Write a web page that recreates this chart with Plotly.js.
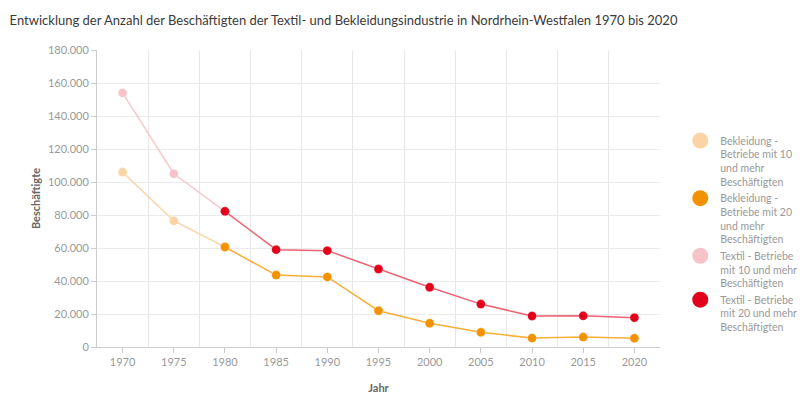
<!DOCTYPE html>
<html><head><meta charset="utf-8">
<script src="https://cdn.plot.ly/plotly-3.0.1.min.js"></script>
<style>body{margin:0;background:#fff}#chart{width:800px;height:398px}</style>
</head><body><div id="chart"></div>
<script>
const years = [1970, 1975, 1980, 1985, 1990, 1995, 2000, 2005, 2010, 2015, 2020];
const bekl10Years = [1970, 1975, 1980];
const bekl10 = [106000, 76500, 60600];
const bekl20Years = [1980, 1985, 1990, 1995, 2000, 2005, 2010, 2015, 2020];
const bekl20 = [60600, 43600, 42500, 22000, 14400, 8900, 5400, 6000, 5300];
const text10Years = [1970, 1975, 1980];
const text10 = [154000, 105000, 82200];
const text20Years = [1980, 1985, 1990, 1995, 2000, 2005, 2010, 2015, 2020];
const text20 = [82200, 59000, 58400, 47300, 36200, 26000, 18800, 18900, 17800];
const names = [
  "Bekleidung -<br>Betriebe mit 10<br>und mehr<br>Beschäftigten",
  "Bekleidung -<br>Betriebe mit 20<br>und mehr<br>Beschäftigten",
  "Textil - Betriebe<br>mit 10 und mehr<br>Beschäftigten",
  "Textil - Betriebe<br>mit 20 und mehr<br>Beschäftigten"
];
const colors = ["#FBD3A4", "#F39200", "#F6C3C9", "#E2001A"];
const lineColors = ["rgba(251,211,164,0.9)", "rgba(245,166,35,0.9)", "rgba(246,195,201,0.9)", "rgba(234,70,90,0.85)"];
const xs = [bekl10Years, bekl20Years, text10Years, text20Years];
const ys = [bekl10, bekl20, text10, text20];

const traces = [];
for (let i = 0; i < 4; i++) {
  traces.push({
    x: xs[i], y: ys[i], type: "scatter", mode: "lines+markers",
    line: {color: lineColors[i], width: 1.5},
    marker: {color: colors[i], size: 9, line: {color: "rgba(255,255,255,0.6)", width: 0.5}},
    showlegend: false, hoverinfo: "x+y"
  });
}
const ordered = [traces[2], traces[0], traces[3], traces[1]];
for (let i = 0; i < 4; i++) {
  ordered.push({
    x: [null], y: [null], type: "scatter", mode: "markers", name: names[i],
    marker: {color: colors[i], size: 16}, showlegend: true
  });
}

const layout = {
  width: 800, height: 398,
  margin: {l: 97, r: 140, t: 50, b: 51, autoexpand: false},
  paper_bgcolor: "#fff", plot_bgcolor: "#fff",
  separators: ",.",
  font: {family: "Lato, 'Noto Sans', sans-serif", color: "#999", size: 11},
  title: {text: "Entwicklung der Anzahl der Beschäftigten der Textil- und Bekleidungsindustrie in Nordrhein-Westfalen 1970 bis 2020",
    xref: "container", yref: "container", x: 0.012, xanchor: "left", y: 0.948, yanchor: "middle",
    font: {size: 13, color: "#3a3a3a", family: "Lato, 'Noto Sans', sans-serif"}},
  xaxis: {
    range: [1967.5, 2022.5], tickvals: years, ticktext: years.map(String),
    showgrid: false, zeroline: false, showline: true, linecolor: "#ccc", linewidth: 1,
    ticks: "outside", ticklen: 5, tickcolor: "#ccc", tickfont: {size: 11, color: "#999"},
    minor: {tick0: 1972.5, dtick: 5, showgrid: true, gridcolor: "#e8e8e8", gridwidth: 1, ticks: ""},
    title: {text: "<b>Jahr</b>", font: {size: 11, color: "#666"}, standoff: 17}
  },
  yaxis: {
    range: [0, 180000], dtick: 20000, tickformat: ",d",
    showgrid: true, gridcolor: "#ebebeb", zeroline: false,
    showline: true, linecolor: "#ccc", linewidth: 1,
    ticks: "outside", ticklen: 5, tickcolor: "#ccc", tickfont: {size: 11, color: "#999"},
    title: {text: "<b>Beschäftigte</b>", font: {size: 11, color: "#666"}, standoff: 5}
  },
  legend: {x: 1.036, xanchor: "left", y: 0.74, yanchor: "top", valign: "top",
    font: {size: 10.5, color: "#999"}, itemwidth: 30, tracegroupgap: 0, bgcolor: "rgba(0,0,0,0)"},
  hovermode: "closest"
};
Plotly.newPlot("chart", ordered, layout, {displayModeBar: false});
</script></body></html>
